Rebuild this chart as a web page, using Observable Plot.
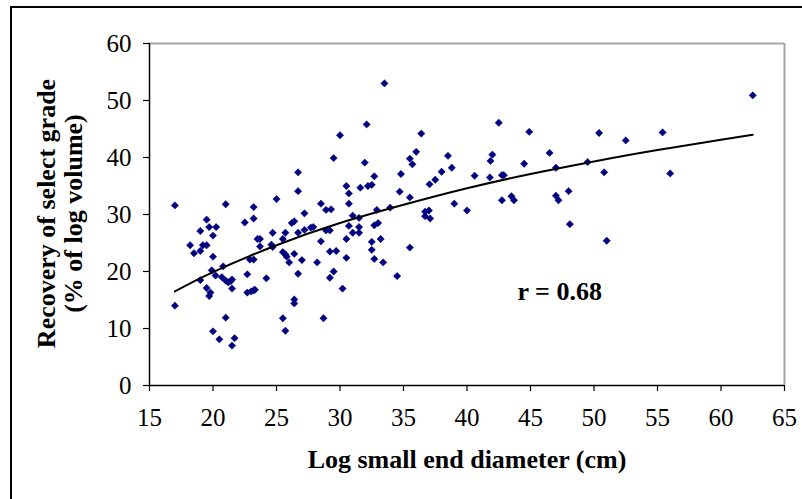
<!DOCTYPE html>
<html>
<head>
<meta charset="utf-8">
<script src="https://cdn.jsdelivr.net/npm/d3@7"></script>
<script src="https://cdn.jsdelivr.net/npm/@observablehq/plot@0.6"></script>
<style>
  html, body { margin: 0; padding: 0; background: #fff; }
  #wrap { position: relative; width: 802px; height: 499px; overflow: hidden; }
  #frame { position: absolute; left: 10px; top: 6px; width: 900px; height: 600px;
           border-left: 2px solid #000; border-top: 2px solid #000; box-sizing: border-box; }
  #chart { position: absolute; left: 0; top: 0; }
</style>
</head>
<body>
<div id="wrap"><div id="frame"></div><div id="chart"></div></div>
<script>
// Scatter data
const diameter = [
  17.0, 17.0, 21.0, 23.2, 25.0, 26.7, 26.7, 28.5, 29.5, 30.0,
  30.5, 30.7, 30.7, 31.6, 28.9, 29.3, 27.2, 23.2, 22.5, 19.5,
  19.0, 19.7, 20.25, 20.0, 18.2, 18.5, 19.0, 19.2, 19.5, 20.0,
  19.9, 20.2, 20.8, 19.0, 19.5, 19.8, 19.7, 20.7, 21.0, 21.2,
  21.4, 21.5, 21.5, 21.0, 20.0, 20.5, 21.7, 21.5, 22.7, 22.7,
  23.0, 23.2, 23.3, 24.2, 22.9, 23.2, 23.5, 23.7, 23.7, 24.6,
  24.7, 24.7, 25.5, 25.7, 25.5, 25.7, 25.8, 26.0, 26.4, 26.7,
  27.0, 26.4, 26.4, 25.5, 25.7, 26.2, 26.4, 26.7, 27.2, 27.7,
  27.9, 28.5, 28.2, 28.9, 29.2, 29.2, 29.7, 29.5, 29.2, 30.2,
  28.7, 30.5, 30.5, 30.7, 31.0, 31.0, 31.5, 31.5, 32.2, 32.5,
  31.95, 32.1, 32.7, 33.5, 34.7, 34.8, 35.5, 35.5, 35.7, 36.0,
  36.4, 37.05, 37.5, 38.0, 38.5, 38.8, 39.0, 40.6, 41.8, 41.85,
  42.0, 42.5, 42.75, 42.9, 42.75, 43.5, 43.7, 44.5, 44.9, 46.5,
  47.0, 47.0, 47.2, 31.5, 32.5, 32.5, 32.7, 33.2, 33.4, 32.7,
  33.0, 32.9, 33.95, 34.5, 35.5, 36.7, 37.0, 36.7, 37.1, 40.0,
  48.0, 48.1, 51.0, 49.5, 50.4, 50.8, 52.5, 55.4, 56.0, 62.5
];
const recovery = [
  31.6, 14.0, 31.8, 31.3, 32.7, 37.4, 34.1, 31.9, 39.9, 43.9,
  35.0, 33.7, 31.9, 34.7, 30.8, 30.9, 30.2, 29.3, 28.6, 29.1,
  27.1, 27.8, 27.8, 26.3, 24.6, 23.2, 23.6, 24.6, 24.6, 22.6,
  20.2, 19.3, 20.9, 18.5, 17.1, 16.3, 15.7, 19.0, 18.4, 18.1,
  18.3, 18.6, 17.0, 11.9, 9.5, 8.1, 8.3, 7.0, 19.5, 16.3,
  16.5, 16.7, 16.8, 18.8, 22.1, 22.1, 25.7, 25.7, 24.4, 24.7,
  24.3, 26.8, 25.7, 26.8, 23.4, 23.0, 22.6, 21.6, 23.1, 19.6,
  22.0, 15.1, 14.4, 11.8, 9.6, 28.5, 28.8, 26.8, 27.3, 27.7,
  27.8, 25.3, 21.6, 27.2, 27.2, 23.5, 23.6, 20.0, 18.9, 17.0,
  11.8, 25.7, 22.4, 28.0, 29.8, 26.8, 27.8, 26.8, 35.0, 35.2,
  39.1, 45.8, 36.7, 53.0, 34.0, 37.1, 33.0, 39.8, 38.8, 41.0,
  44.2, 35.3, 36.1, 37.5, 40.3, 38.2, 31.9, 36.8, 36.5, 39.4,
  40.5, 46.1, 36.9, 36.9, 32.5, 33.2, 32.5, 38.9, 44.5, 40.8,
  38.2, 33.3, 32.5, 29.4, 25.2, 23.8, 22.2, 25.7, 21.6, 28.1,
  28.5, 30.8, 31.2, 19.2, 24.2, 30.5, 30.7, 29.7, 29.3, 30.7,
  34.1, 28.3, 25.4, 39.2, 44.3, 37.4, 43.0, 44.4, 37.2, 50.9
];
// Fitted curve
const trendX = [17, 20, 25, 30, 35, 40, 45, 50, 55, 60, 62.5];
const trendY = [16.5, 19.9, 24.6, 28.5, 31.7, 34.6, 37.1, 39.3, 41.3, 43.1, 44.0];
// Tick labels
const xTicks = [15, 20, 25, 30, 35, 40, 45, 50, 55, 60, 65];
const yTicks = [0, 10, 20, 30, 40, 50, 60];
// Texts
const xTitle = "Log small end diameter (cm)";
const yTitle = "Recovery of select grade\n(% of log volume)";
const annotText = ["r = 0.68"];
const annotX = [47.3];
const annotY = [16.4];

const points = diameter.map((d, i) => ({x: d, y: recovery[i]}));
const trend = trendX.map((d, i) => ({x: d, y: trendY[i]}));
const annot = annotText.map((t, i) => ({t, x: annotX[i], y: annotY[i]}));

const chart = Plot.plot({
  width: 802,
  height: 499,
  marginLeft: 149,
  marginRight: 18,
  marginTop: 43,
  marginBottom: 114,
  style: {fontFamily: "'Liberation Serif', 'Times New Roman', serif", fontSize: "25px", color: "#000", background: "transparent", overflow: "visible"},
  x: {domain: [15, 65]},
  y: {domain: [0, 60]},
  marks: [
    Plot.ruleY([yTicks[yTicks.length - 1]], {stroke: "#a6a6a6", strokeWidth: 2}),
    Plot.ruleX([xTicks[xTicks.length - 1]], {stroke: "#a6a6a6", strokeWidth: 2}),
    Plot.axisX({ticks: xTicks, tickSize: 6, tickPadding: 17, label: null, fontSize: 25, stroke: "#000", strokeWidth: 1.2}),
    Plot.axisY({ticks: yTicks, tickSize: 6, tickPadding: 12, label: null, fontSize: 25, stroke: "#000", strokeWidth: 1.2}),
    Plot.ruleX([xTicks[0]], {stroke: "#000", strokeWidth: 1.5}),
    Plot.ruleY([yTicks[0]], {stroke: "#000", strokeWidth: 1.5}),
    Plot.dot(points, {x: "x", y: "y", symbol: "diamond2", r: 3.3, fill: "#000080", stroke: "#000080", strokeWidth: 0.5}),
    Plot.line(trend, {x: "x", y: "y", curve: "natural", stroke: "#000", strokeWidth: 2}),
    Plot.text(annot, {x: "x", y: "y", text: "t", fontSize: 26, fontWeight: "bold", textAnchor: "middle"}),
    Plot.text([xTitle], {text: d => d, frameAnchor: "bottom", textAnchor: "middle", dy: 82, fontSize: 26, fontWeight: "bold"}),
    Plot.text([yTitle], {text: d => d, frameAnchor: "left", textAnchor: "middle", rotate: -90, dx: -90, dy: -1, fontSize: 26, fontWeight: "bold", lineHeight: 1.04})
  ]
});
document.getElementById("chart").appendChild(chart);
</script>
</body>
</html>
